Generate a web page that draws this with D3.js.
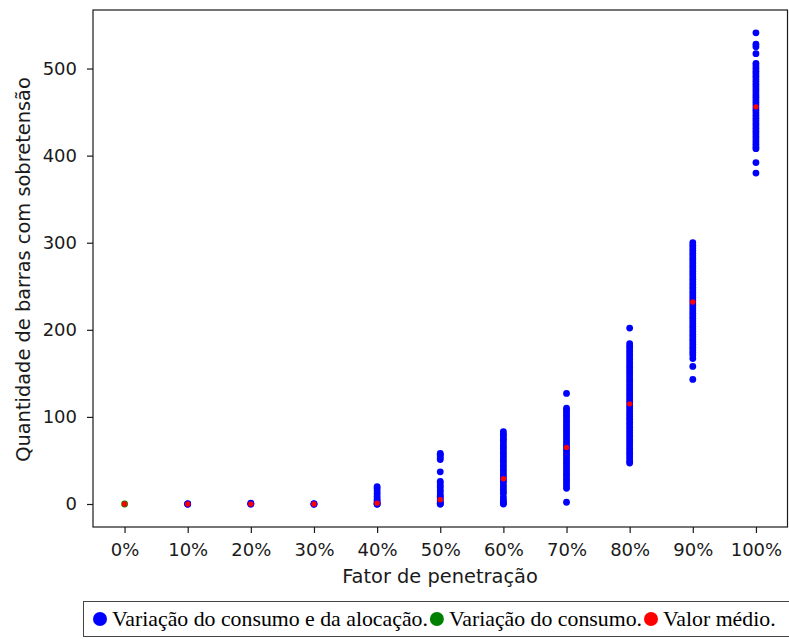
<!DOCTYPE html>
<html>
<head>
<meta charset="utf-8">
<script src="https://cdn.jsdelivr.net/npm/d3@7"></script>
<style>
  html, body { margin: 0; padding: 0; background: #fff; }
  svg { display: block; }
</style>
</head>
<body>
<svg id="chart" width="789" height="639"></svg>
<script>
// Penetration factor categories (x axis)
const categories = ["0%", "10%", "20%", "30%", "40%", "50%", "60%", "70%", "80%", "90%", "100%"];

// Overvoltage bar counts per scenario, varying consumption and allocation
const allocationVariation = [
  [],
  [0, 0, 0],
  [0, 0, 1],
  [0, 0, 0],
  [0, 0, 0, 2, 4, 6, 9, 12, 15, 18, 20],
  [0, 0, 1, 3, 5, 7, 9, 11, 14, 16, 19, 21, 24, 26, 37, 51, 53, 55, 57, 58],
  [0, 1, 3, 5, 8, 12, 14, 17, 20, 23, 26, 28, 31, 34, 37, 40, 43, 46, 49, 52, 55, 58, 61, 64, 67, 70, 73, 75, 78, 80, 83],
  [2, 18, 21, 24, 27, 30, 33, 36, 39, 42, 45, 48, 51, 54, 57, 60, 63, 66, 69, 72, 75, 78, 81, 84, 87, 90, 93, 96, 99, 102, 105, 108, 110, 127],
  [47, 49, 52, 55, 58, 61, 64, 67, 70, 73, 76, 79, 82, 85, 88, 91, 94, 97, 100, 103, 106, 109, 112, 115, 118, 121, 124, 127, 130, 133, 136, 139, 142, 145, 148, 151, 154, 157, 160, 163, 166, 169, 172, 175, 178, 181, 184, 202],
  [143, 158, 167, 171, 174, 177, 180, 183, 186, 189, 192, 195, 198, 201, 204, 207, 210, 213, 216, 219, 222, 225, 228, 231, 234, 237, 240, 243, 246, 249, 252, 255, 258, 261, 264, 267, 270, 273, 276, 279, 282, 285, 288, 291, 294, 297, 300],
  [380, 392, 408, 410, 413, 416, 419, 422, 425, 428, 431, 434, 437, 440, 443, 446, 449, 452, 455, 458, 461, 464, 467, 470, 473, 476, 479, 482, 485, 488, 491, 494, 497, 500, 503, 506, 517, 525, 528, 541]
];

// Overvoltage bar counts varying only the consumption
const consumptionVariation = [[0], [], [], [], [], [], [], [], [], [], []];

// Mean value per penetration factor
const meanValues = [0, 0, 0, 0, 1, 5, 29, 65, 115, 232, 456];

const yTicks = [0, 100, 200, 300, 400, 500];

const legendItems = [
  { label: "Variação do consumo e da alocação.", color: "#0000ff" },
  { label: "Variação do consumo.", color: "#008000" },
  { label: "Valor médio.", color: "#ff0000" }
];

const svg = d3.select("#chart");
const plot = { left: 93, right: 787.5, top: 10, bottom: 527 };

const x = d3.scaleLinear()
  .domain([-0.5, categories.length - 0.5])
  .range([plot.left, plot.right]);

const y = d3.scaleLinear()
  .domain([-26.4, 567.2])
  .range([plot.bottom, plot.top]);

const sansFont = "'DejaVu Sans', sans-serif";
const serifFont = "'Liberation Serif', Tinos, 'Nimbus Roman', 'Noto Serif', 'DejaVu Serif', FreeSerif, serif";
const tickSize = 18;
const labelSize = 19.4;
const ink = "#1a1a1a";

// x axis
const xAxis = d3.axisBottom(x)
  .tickValues(d3.range(categories.length))
  .tickFormat(i => categories[i])
  .tickSize(6)
  .tickPadding(10);

const gx = svg.append("g")
  .attr("transform", `translate(0,${plot.bottom})`)
  .call(xAxis);

// y axis
const yAxis = d3.axisLeft(y)
  .tickValues(yTicks)
  .tickSize(6)
  .tickPadding(10);

const gy = svg.append("g")
  .attr("transform", `translate(${plot.left},0)`)
  .call(yAxis);

[gx, gy].forEach(g => {
  g.attr("font-family", null).attr("font-size", null);
  g.select(".domain").remove();
  g.selectAll(".tick line").attr("stroke", ink).attr("stroke-width", 1.2);
  g.selectAll(".tick text")
    .attr("fill", ink)
    .style("font-family", sansFont)
    .style("font-size", tickSize + "px");
});

// frame
svg.append("rect")
  .attr("x", plot.left)
  .attr("y", plot.top)
  .attr("width", plot.right - plot.left)
  .attr("height", plot.bottom - plot.top)
  .attr("fill", "none")
  .attr("stroke", ink)
  .attr("stroke-width", 1.2);

// axis titles
svg.append("text")
  .attr("x", 440)
  .attr("y", 583)
  .attr("text-anchor", "middle")
  .attr("fill", ink)
  .style("font-family", sansFont)
  .style("font-size", labelSize + "px")
  .text("Fator de penetração");

svg.append("text")
  .attr("transform", `translate(30,269.5) rotate(-90)`)
  .attr("text-anchor", "middle")
  .attr("fill", ink)
  .style("font-family", sansFont)
  .style("font-size", labelSize + "px")
  .text("Quantidade de barras com sobretensão");

// scatter points
function flatten(series) {
  const out = [];
  series.forEach((vals, i) => vals.forEach(v => out.push({ i, v })));
  return out;
}

const points = svg.append("g");

points.selectAll("circle.alloc")
  .data(flatten(allocationVariation))
  .join("circle")
  .attr("class", "alloc")
  .attr("cx", d => x(d.i))
  .attr("cy", d => y(d.v))
  .attr("r", 3.4)
  .attr("fill", "#0000ff");

points.selectAll("circle.cons")
  .data(flatten(consumptionVariation))
  .join("circle")
  .attr("class", "cons")
  .attr("cx", d => x(d.i))
  .attr("cy", d => y(d.v))
  .attr("r", 3.4)
  .attr("fill", "#008000");

points.selectAll("circle.mean")
  .data(meanValues.map((v, i) => ({ i, v })))
  .join("circle")
  .attr("class", "mean")
  .attr("cx", d => x(d.i))
  .attr("cy", d => y(d.v))
  .attr("r", 2.7)
  .attr("fill", "#ff0000");

// legend
const legend = svg.append("g")
  .attr("font-family", serifFont);

legend.append("rect")
  .attr("x", 83.5)
  .attr("y", 601.5)
  .attr("width", 720)
  .attr("height", 35)
  .attr("fill", "#fff")
  .attr("stroke", "#444")
  .attr("stroke-width", 1);

// size the legend text so the first entry spans about 316px
const probe = legend.append("text")
  .attr("font-size", 20)
  .text(legendItems[0].label);
const legendSize = 20 * 316 / probe.node().getComputedTextLength();
probe.remove();

let lx = 93;
legendItems.forEach(item => {
  legend.append("circle")
    .attr("cx", lx + 7)
    .attr("cy", 619)
    .attr("r", 7)
    .attr("fill", item.color);
  const t = legend.append("text")
    .attr("x", lx + 19)
    .attr("y", 626)
    .attr("fill", "#000")
    .attr("font-size", legendSize)
    .text(item.label);
  lx = lx + 19 + t.node().getComputedTextLength() + 2;
});
</script>
</body>
</html>
